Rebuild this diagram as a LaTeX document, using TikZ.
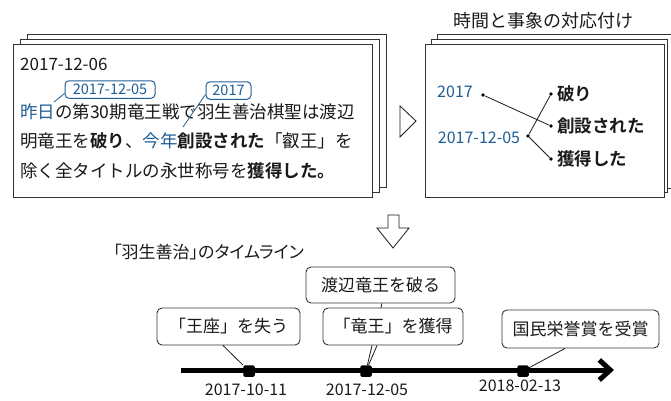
\documentclass[tikz,border=0pt]{standalone}
\usepackage{fontspec}
\setmainfont{Noto Sans CJK JP}[BoldFont={Noto Sans CJK JP Bold}]
\newfontfamily\pfont{Noto Sans CJK JP}[RawFeature=+palt]
\usetikzlibrary{arrows.meta}
\definecolor{tblue}{HTML}{1F5E96}
\definecolor{ink}{HTML}{1A1A1A}
\definecolor{frame}{HTML}{333333}
\begin{document}
\begin{tikzpicture}[x=1pt,y=-1pt,
  page/.style={draw=frame, line width=1pt, fill=white},
  body/.style={font=\fontsize{17.5}{20}\selectfont, text=ink, inner sep=0, anchor=base west},
  callout/.style={draw=tblue, rounded corners=4pt, line width=1pt, text=tblue,
     font=\fontsize{14.5}{16}\selectfont, inner sep=0, fill=white, minimum height=17.5pt},
  tdate/.style={text=tblue, font=\fontsize{16}{18}\selectfont, inner sep=0},
  xdate/.style={text=ink, font=\fontsize{16}{18}\selectfont, inner sep=0},
  event/.style={draw=frame, rounded corners=5pt, line width=0.9pt, fill=white,
     font=\fontsize{17}{19}\selectfont, inner sep=0, text=ink},
  marker/.style={fill=black, rounded corners=1.5pt, minimum size=11.5pt, inner sep=0},
  dot/.style={circle, fill=black, inner sep=0, minimum size=3.8pt},
  leader/.style={draw=ink, line width=0.8pt},
  evword/.style={font=\fontsize{17.5}{20}\selectfont\bfseries, text=ink, inner sep=0, anchor=west}
]
\useasboundingbox (0,0) rectangle (671,400);

% left stack of pages
\draw[page] (27,34) rectangle (386,187);
\draw[page] (20,39) rectangle (379,192);
\draw[page] (13,44) rectangle (372,197);

% right stack of pages
\draw[page] (437,34) rectangle (671,188);
\draw[page] (431,39) rectangle (667,192);
\draw[page] (425,44) rectangle (664,197);

% left text
\node[body, font=\fontsize{17}{20}\selectfont] (date) at (20,70) {2017-12-06};
\node[body] (l1) at (20,118.5) {\textcolor{tblue}{昨日}の第30期竜王戦で羽生善治棋聖は渡辺};
\node[body] (l2) at (20,147) {明竜王を\textbf{破り}、\textcolor{tblue}{今年}\textbf{創設された}「叡王」を};
\node[body] (l3) at (20,177.5) {除く全タイトルの永世称号を\textbf{獲得した。}};

% callouts
\node[callout, minimum width=90pt] (c1) at (110,89.5) {2017-12-05};
\node[callout, minimum width=45pt] (c2) at (228.5,90.5) {2017};
\coordinate (c1t) at (54,102);
\coordinate (c2t) at (183,127);
\draw[leader, draw=tblue] (c1t) -- ([yshift=-4pt]c1.west);
\draw[leader, draw=tblue] (c2t) -- ([yshift=-4pt]c2.west);

% arrow between boxes
\draw[line width=0.8pt, draw=ink] (400,106) -- (400,137) -- (416,121) -- cycle;

% right title and contents
\node[font=\fontsize{18}{20}\selectfont, text=ink, inner sep=0] (rtitle) at (543,21) {時間と事象の対応付け};
\node[tdate] (t1) at (455,92) {2017};
\node[tdate] (t2) at (479,138) {2017-12-05};
\node[dot] (d1) at (483,95) {};
\node[dot] (d2) at (528,136) {};
\node[dot] (e1) at (551,94) {};
\node[dot] (e2) at (551,126) {};
\node[dot] (e3) at (551,159) {};
\node[evword] (w1) at (557,94) {破り};
\node[evword] (w2) at (557,126) {創設された};
\node[evword] (w3) at (557,159) {獲得した};
\draw[leader] (d1) -- (e2);
\draw[leader] (d2) -- (e1);
\draw[leader] (d2) -- (e3);

% down block arrow
\draw[line width=0.8pt, draw=ink, fill=white] (388,215) -- (399,215) -- (399,228) -- (409,228) -- (393,248) -- (377,228) -- (388,228) -- cycle;

% timeline
\node[anchor=west, inner sep=0, text=ink, font=\pfont\fontsize{17}{19}\selectfont] (ttitle) at (113,252) {「羽生善治」のタイムライン};
\coordinate (ax0) at (181,370);
\coordinate (ax1) at (614,370);
\draw[line width=5pt, -{Straight Barb[length=11pt,width=20pt]}] (ax0) -- (ax1);

\node[event, minimum width=143pt, minimum height=37pt] (b1) at (228.5,326.5) {「王座」を失う};
\node[event, minimum width=149pt, minimum height=36pt] (b2) at (380.5,285) {渡辺竜王を破る};
\node[marker] (m1) at (249,371) {};
\node[marker] (m2) at (366,371) {};
\node[marker] (m3) at (523,371) {};
\draw[leader] ([xshift=-5.5pt]b1.south) -- (m1);
\draw[leader] ([xshift=1.5pt]b2.south) -- (m2);
\node[event, minimum width=140pt, minimum height=37pt] (b3) at (393,326.5) {「竜王」を獲得};
\draw[leader] ([xshift=-16pt]b3.south) -- (m2);
\node[event, minimum width=157pt, minimum height=38pt] (b4) at (580.5,329) {国民栄誉賞を受賞};
\draw[leader] ([xshift=-15.5pt]b4.south) -- (m3);

\node[xdate] (x1) at (246,390) {2017-10-11};
\node[xdate] (x2) at (367,390) {2017-12-05};
\node[xdate] (x3) at (520,386) {2018-02-13};
\end{tikzpicture}
\end{document}
